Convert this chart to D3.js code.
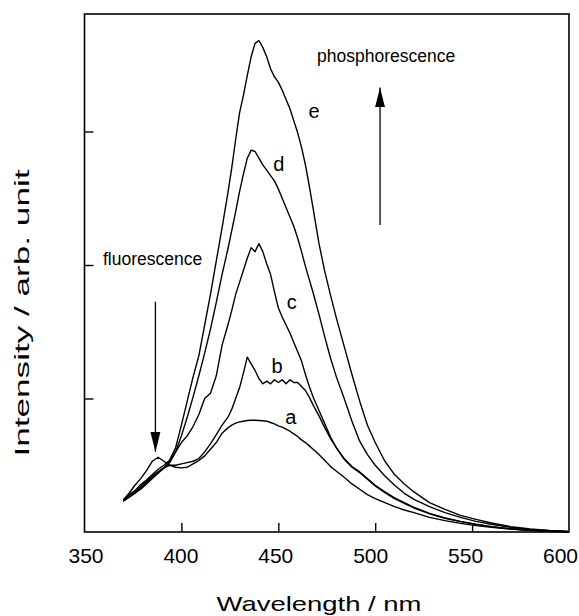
<!DOCTYPE html>
<html><head><meta charset="utf-8">
<script src="https://cdn.jsdelivr.net/npm/d3@7"></script>
<style>body{margin:0;background:#fff}svg{display:block}</style>
</head><body><svg id="chart" width="579" height="616"></svg>
<script>
// ---- data ----
const wavelengths = [370,373,376,379,382,385,388,391,394,397,400,403,406,409,412,415,418,421,424,
  426,428,430,432,434,436,438,440,442,444,446,448,450,452,454,456,458,460,462,464,466,468,
  471,474,477,480,484,488,492,496,500,505,510,515,520,528,536,544,552,560,570,580,590,600];

const seriesA = [0.24,0.29,0.35,0.40,0.46,0.53,0.56,0.53,0.50,0.485,0.48,0.485,0.51,0.535,0.57,0.62,0.67,0.74,0.78,
  0.80,0.815,0.825,0.83,0.835,0.837,0.837,0.835,0.833,0.83,0.82,0.81,0.795,0.785,0.77,0.755,0.735,0.715,0.69,0.67,0.645,0.62,
  0.58,0.535,0.49,0.455,0.41,0.36,0.32,0.28,0.25,0.22,0.19,0.165,0.145,0.11,0.085,0.065,0.048,0.035,0.022,0.012,0.006,0.002];

const seriesB = [0.23,0.26,0.29,0.33,0.37,0.41,0.45,0.48,0.50,0.50,0.51,0.52,0.53,0.55,0.60,0.66,0.73,0.80,0.86,
  0.92,1.00,1.08,1.19,1.31,1.26,1.21,1.15,1.11,1.13,1.11,1.14,1.12,1.14,1.11,1.14,1.12,1.12,1.09,1.06,1.01,0.95,
  0.87,0.78,0.70,0.63,0.545,0.485,0.445,0.395,0.345,0.295,0.25,0.215,0.18,0.137,0.103,0.078,0.057,0.039,0.023,0.012,0.006,0.002];

const seriesC = [0.23,0.26,0.29,0.32,0.36,0.40,0.44,0.48,0.53,0.60,0.67,0.72,0.79,0.88,1.00,1.04,1.17,1.40,1.55,
  1.66,1.78,1.87,1.96,2.05,2.13,2.10,2.16,2.10,2.01,1.93,1.80,1.68,1.61,1.55,1.49,1.42,1.35,1.28,1.18,1.09,1.01,
  0.91,0.81,0.71,0.63,0.55,0.49,0.45,0.40,0.35,0.30,0.255,0.22,0.185,0.14,0.105,0.08,0.058,0.04,0.024,0.013,0.006,0.002];

const seriesD = [0.24,0.27,0.30,0.34,0.38,0.42,0.45,0.48,0.52,0.60,0.72,0.86,1.01,1.17,1.34,1.52,1.72,1.93,2.12,
  2.26,2.40,2.55,2.68,2.80,2.86,2.85,2.80,2.75,2.71,2.67,2.63,2.57,2.50,2.43,2.36,2.29,2.20,2.10,1.99,1.89,1.79,
  1.63,1.46,1.30,1.16,1.00,0.83,0.68,0.58,0.50,0.42,0.35,0.29,0.245,0.19,0.145,0.11,0.08,0.058,0.035,0.019,0.009,0.003];

const seriesE = [0.24,0.28,0.31,0.355,0.39,0.43,0.47,0.50,0.54,0.63,0.80,0.98,1.16,1.32,1.55,1.78,2.03,2.28,2.54,
  2.73,2.94,3.14,3.27,3.42,3.56,3.66,3.68,3.63,3.56,3.47,3.41,3.37,3.31,3.24,3.17,3.08,2.99,2.88,2.75,2.59,2.42,
  2.16,1.95,1.77,1.60,1.39,1.18,0.98,0.80,0.67,0.53,0.43,0.36,0.30,0.22,0.17,0.125,0.095,0.067,0.04,0.022,0.011,0.004];

const seriesNames = ["a","b","c","d","e"];
const seriesValues = [seriesA, seriesB, seriesC, seriesD, seriesE];
const xTickValues = [350,400,450,500,550,600];
const yTickValues = [1,2,3];
const xTitle = "Wavelength / nm";
const yTitle = "Intensity / arb. unit";

// ---- drawing ----
const FONT = "'Liberation Sans', Arial, Helvetica, sans-serif";
const svg = d3.select("#chart");
const x = d3.scaleLinear().domain([350,600]).range([84.5,569]);
const y = d3.scaleLinear().domain([0,3.88]).range([532,14]);
const labelX = d3.scaleLinear().domain([350,600]).range([86,560.5]);

// frame
svg.append("rect")
  .attr("x", x(350)).attr("y", y(3.88))
  .attr("width", x(600)-x(350)).attr("height", y(0)-y(3.88))
  .attr("fill","none").attr("stroke","#000").attr("stroke-width",1.6);

// x ticks (inward)
const gx = svg.append("g").attr("transform",`translate(0,${y(0)})`)
  .call(d3.axisBottom(x).tickValues(xTickValues.slice(1,-1)).tickSize(-9).tickFormat(""));
gx.select(".domain").remove();
gx.selectAll(".tick line").attr("stroke","#000").attr("stroke-width",1.4);

// y ticks (inward)
const gy = svg.append("g").attr("transform",`translate(${x(350)},0)`)
  .call(d3.axisLeft(y).tickValues(yTickValues).tickSize(-9).tickFormat(""));
gy.select(".domain").remove();
gy.selectAll(".tick line").attr("stroke","#000").attr("stroke-width",1.4);

// x tick labels
svg.append("g").selectAll("text").data(xTickValues).join("text")
  .attr("x", d => labelX(d)).attr("y", 563)
  .attr("text-anchor","middle")
  .attr("font-family",FONT).attr("font-size",21).attr("fill","#000")
  .text(d => d);

// axis titles
svg.append("text")
  .attr("x", 319).attr("y", 611)
  .attr("text-anchor","middle")
  .attr("font-family",FONT).attr("font-size",21)
  .attr("textLength",205).attr("lengthAdjust","spacingAndGlyphs")
  .text(xTitle);
svg.append("text")
  .attr("transform","translate(29,313) rotate(-90)")
  .attr("text-anchor","middle")
  .attr("font-family",FONT).attr("font-size",21)
  .attr("textLength",287).attr("lengthAdjust","spacingAndGlyphs")
  .text(yTitle);

// curves
const line = d3.line().x(d => x(d[0])).y(d => y(d[1]));
svg.append("g").selectAll("path").data(seriesValues).join("path")
  .attr("d", vals => line(wavelengths.map((w,i)=>[w, vals[i]])))
  .attr("fill","none").attr("stroke","#000").attr("stroke-width",1.4)
  .attr("stroke-linejoin","round");

// curve labels
const labelPos = {a:[456.5,0.86], b:[449.3,1.24], c:[457.0,1.72], d:[450.3,2.76], e:[468.4,3.15]};
svg.append("g").selectAll("text").data(seriesNames).join("text")
  .attr("x", d => x(labelPos[d][0])).attr("y", d => y(labelPos[d][1]))
  .attr("text-anchor","middle").attr("dominant-baseline","central")
  .attr("font-family",FONT).attr("font-size",20)
  .text(d => d);

// annotations
svg.append("defs").append("marker")
  .attr("id","ah").attr("markerUnits","userSpaceOnUse")
  .attr("markerWidth",22).attr("markerHeight",12)
  .attr("viewBox","0 -6 22 12").attr("refX",20).attr("refY",0).attr("orient","auto")
  .append("path").attr("d","M0,-5L20,0L0,5Z").attr("fill","#000");

svg.append("line")
  .attr("x1", x(502.5)).attr("y1", y(2.30)).attr("x2", x(502.5)).attr("y2", y(3.33))
  .attr("stroke","#000").attr("stroke-width",1.3).attr("marker-end","url(#ah)");
svg.append("line")
  .attr("x1", x(386.6)).attr("y1", y(1.725)).attr("x2", x(386.6)).attr("y2", y(0.60))
  .attr("stroke","#000").attr("stroke-width",1.3).attr("marker-end","url(#ah)");

svg.append("text").attr("x",317).attr("y",62)
  .attr("font-family",FONT).attr("font-size",17.5).text("phosphorescence");
svg.append("text").attr("x",103).attr("y",265)
  .attr("font-family",FONT).attr("font-size",17.5).text("fluorescence");
</script></body></html>
